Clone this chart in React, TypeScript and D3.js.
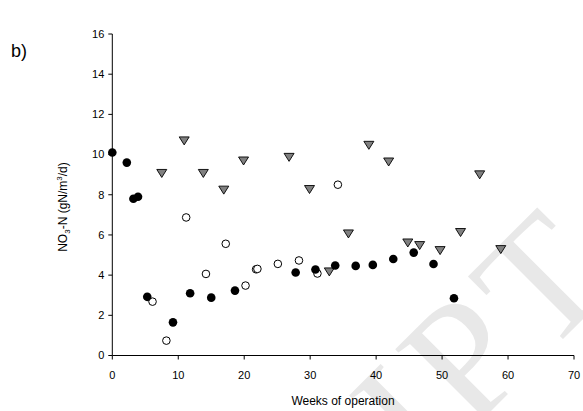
import React from "react";
import * as d3 from "d3";

// weeks of operation / NO3-N (gN/m3/d)
const filledWeeks = [0, 2.2, 3.2, 3.9, 5.3, 9.2, 11.8, 15.0, 18.6, 27.8, 30.8, 33.8, 36.9, 39.5, 42.6, 45.7, 48.7, 51.8];
const filledValues = [10.1, 9.6, 7.8, 7.9, 2.92, 1.65, 3.1, 2.88, 3.23, 4.13, 4.28, 4.48, 4.46, 4.51, 4.8, 5.12, 4.55, 2.85];

const openWeeks = [6.1, 8.2, 11.2, 14.2, 17.2, 20.2, 21.8, 22.0, 25.1, 28.3, 31.1, 34.2];
const openValues = [2.68, 0.74, 6.87, 4.06, 5.56, 3.48, 4.29, 4.31, 4.56, 4.73, 4.08, 8.5];

const triWeeks = [7.5, 10.9, 13.8, 16.9, 19.9, 26.8, 29.9, 32.9, 35.8, 38.9, 41.9, 44.8, 46.6, 49.7, 52.8, 55.7, 58.9];
const triValues = [9.08, 10.7, 9.08, 8.25, 9.7, 9.88, 8.28, 4.18, 6.07, 10.48, 9.65, 5.62, 5.49, 5.24, 6.14, 9.01, 5.29];

const xTicks = [0, 10, 20, 30, 40, 50, 60, 70];
const yTicks = [0, 2, 4, 6, 8, 10, 12, 14, 16];

const W = 583;
const H = 411;
const font = "'Liberation Sans', Arial, sans-serif";

const App = () => {
  const x = d3.scaleLinear().domain([0, 70]).range([112.3, 574]);
  const y = d3.scaleLinear().domain([0, 16]).range([355.5, 34]);
  const x0 = x(0);
  const y0 = y(0);

  const filled = filledWeeks.map((w, i) => [w, filledValues[i]]);
  const open = openWeeks.map((w, i) => [w, openValues[i]]);
  const tris = triWeeks.map((w, i) => [w, triValues[i]]);

  const triPath = "M-5,-3.6L5,-3.6L0,4.4Z";

  return (
    <svg width={W} height={H} style={{ position: "absolute", left: 0, top: 0, background: "#fff" }}>
      {/* watermark, only its tail shows in the frame */}
      <text
        transform="translate(625,277) rotate(-45)"
        textAnchor="end"
        fontFamily="'Liberation Serif', 'DejaVu Serif', serif"
        fontSize={170}
        letterSpacing={10}
        fill="#e8e8e8"
      >
        IPT
      </text>

      <text x={11} y={57} fontFamily={font} fontSize={18} fill="#000">b)</text>

      {/* y axis */}
      <line x1={x0} x2={x0} y1={y(16)} y2={y0} stroke="#000" strokeWidth={1} />
      {yTicks.map((t) => (
        <g key={"y" + t}>
          <line x1={x0 - 4} x2={x0} y1={y(t)} y2={y(t)} stroke="#000" />
          <text x={x0 - 8} y={y(t)} dy="0.35em" textAnchor="end" fontFamily={font} fontSize={11}>
            {t}
          </text>
        </g>
      ))}

      {/* x axis */}
      <line x1={x0} x2={x(70)} y1={y0} y2={y0} stroke="#000" strokeWidth={1} />
      {xTicks.map((t) => (
        <g key={"x" + t}>
          <line x1={x(t)} x2={x(t)} y1={y0} y2={y0 + 4} stroke="#000" />
          <text x={x(t)} y={379} textAnchor="middle" fontFamily={font} fontSize={11}>
            {t}
          </text>
        </g>
      ))}

      <text x={343} y={405} textAnchor="middle" fontFamily={font} fontSize={12}>
        Weeks of operation
      </text>

      <text transform="translate(67,207) rotate(-90)" textAnchor="middle" fontFamily={font} fontSize={12}>
        NO<tspan fontSize={8} dy={3}>3</tspan>
        <tspan dy={-3}>-N (gN/m</tspan>
        <tspan fontSize={8} dy={-5}>3</tspan>
        <tspan dy={5}>/d)</tspan>
      </text>

      {/* markers */}
      {tris.map((d, i) => (
        <path
          key={"t" + i}
          d={triPath}
          transform={`translate(${x(d[0])},${y(d[1])})`}
          fill="#808080"
          stroke="#000"
          strokeWidth={0.9}
        />
      ))}
      {open.map((d, i) => (
        <circle key={"o" + i} cx={x(d[0])} cy={y(d[1])} r={3.8} fill="#fff" stroke="#000" strokeWidth={1} />
      ))}
      {filled.map((d, i) => (
        <circle key={"f" + i} cx={x(d[0])} cy={y(d[1])} r={4.3} fill="#000" />
      ))}
    </svg>
  );
};

export default App;
